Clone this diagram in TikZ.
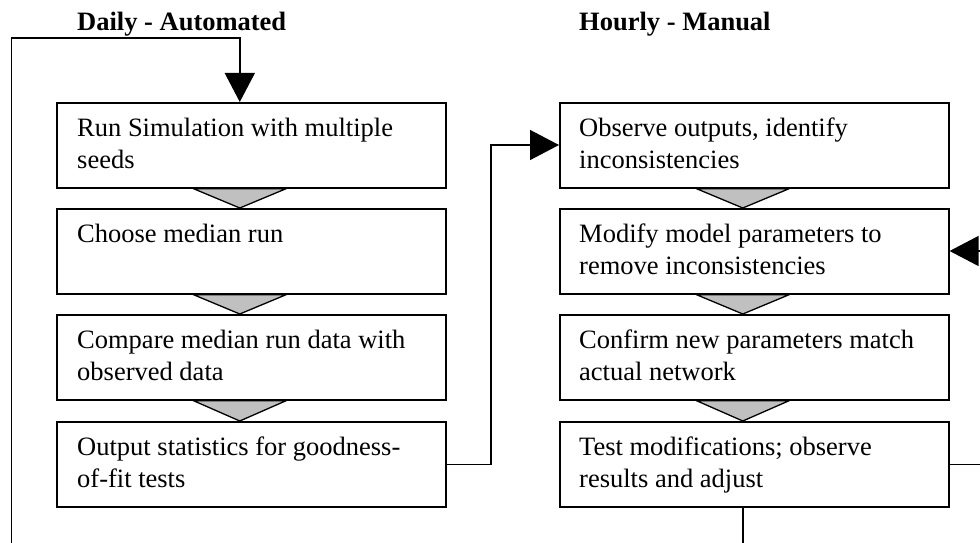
\documentclass[tikz,border=0pt]{standalone}
\usepackage{fontspec}
\setmainfont{Liberation Serif}
\usetikzlibrary{calc,arrows.meta}
\definecolor{trigray}{RGB}{192,192,192}
\tikzset{
  stepbox/.style={draw=black, line width=1.6pt, rectangle, minimum width=389pt, minimum height=85pt, inner sep=0pt, anchor=north west},
  boxtext/.style={anchor=base west, inner sep=0pt, align=left, font=\fontsize{26.5}{31.5}\selectfont},
  headtext/.style={anchor=base west, inner sep=0pt, font=\fontsize{26.5}{31.5}\selectfont\bfseries},
  link/.style={draw=black, line width=1.5pt},
  arr/.style={link, -{Triangle[length=29pt,width=30pt]}},
  tri/.style={draw=black, line width=1.3pt, fill=trigray, line join=miter}
}
\newcommand{\trilink}[2]{\draw[tri] ($(#1.south)+(-58,0)$) -- ($(#1.south)+(35,0)$) -- ($(#2.north)+(-11.5,0)$) -- cycle;}
\begin{document}
\begin{tikzpicture}[x=1pt,y=-1pt]
\useasboundingbox (0,0) rectangle (980,543);
\clip (0,0) rectangle (980,543);
\fill[white] (0,0) rectangle (980,543);

% headings
\node[headtext] (hdaily) at (77,30.5) {Daily - Automated};
\node[headtext] (hhourly) at (579,30.5) {Hourly - Manual};

% left column boxes
\node[stepbox] (l1) at (56,102) {};
\node[stepbox] (l2) at (56,208) {};
\node[stepbox] (l3) at (56,314) {};
\node[stepbox] (l4) at (56,421) {};
% right column boxes
\node[stepbox] (r1) at (559,102) {};
\node[stepbox] (r2) at (559,208) {};
\node[stepbox] (r3) at (559,314) {};
\node[stepbox] (r4) at (559,421) {};

% texts (base anchor of a two-line node is the last line's baseline)
\node[boxtext] (tl1) at ($(l1.north west)+(21,66)$) {Run Simulation with multiple\\seeds};
\node[boxtext] (tl2) at ($(l2.north west)+(21,34.5)$) {Choose median run};
\node[boxtext] (tl3) at ($(l3.north west)+(21,66)$) {Compare median run data with\\observed data};
\node[boxtext] (tl4) at ($(l4.north west)+(21,66)$) {Output statistics for goodness-\\of-fit tests};
\node[boxtext] (tr1) at ($(r1.north west)+(20,66)$) {Observe outputs, identify\\inconsistencies};
\node[boxtext] (tr2) at ($(r2.north west)+(20,66)$) {Modify model parameters to\\remove inconsistencies};
\node[boxtext] (tr3) at ($(r3.north west)+(20,66)$) {Confirm new parameters match\\actual network};
\node[boxtext] (tr4) at ($(r4.north west)+(20,66)$) {Test modifications; observe\\results and adjust};

% gray step triangles
\trilink{l1}{l2}
\trilink{l2}{l3}
\trilink{l3}{l4}
\trilink{r1}{r2}
\trilink{r2}{r3}
\trilink{r3}{r4}

% connector: output statistics -> observe outputs
\coordinate (midx) at (491,0);
\draw[arr] ($(l4.south east)!0.5!(l4.north east)$) -| (midx |- {$(r1.north west)+(0,43)$}) -- ($(r1.north west)+(0,43)$);

% feedback: test -> modify (runs off the right edge)
\coordinate (rightout) at (1010,0);
\draw[arr] (r4.east) -| (rightout |- {$(r2.north east)+(0,43)$}) -- ($(r2.north east)+(0,43)$);

% loop: test -> run simulation (runs off the bottom edge)
\coordinate (leftx) at (11.7,0);
\coordinate (topy) at (0,38);
\coordinate (boty) at (0,580);
\draw[arr] ($(r4.south)+(-11.5,0)$) -- ({$(r4.south)+(-11.5,0)$} |- boty) -| (leftx |- topy) -| ($(l1.north)+(-11.5,0)$);
\end{tikzpicture}
\end{document}
